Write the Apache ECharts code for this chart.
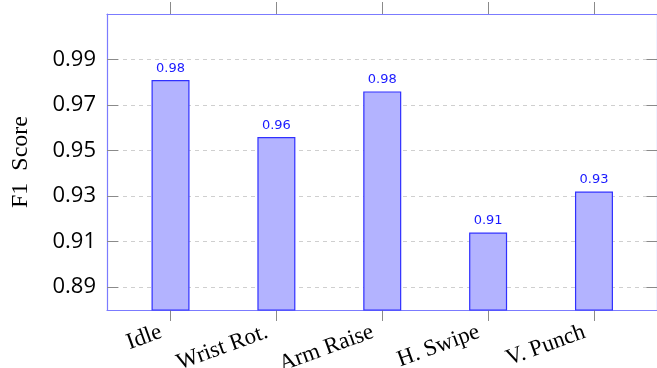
<!DOCTYPE html>
<html>
<head>
<meta charset="utf-8">
<script src="https://cdn.jsdelivr.net/npm/echarts@6/dist/echarts.min.js"></script>
<style>html,body{margin:0;padding:0;background:#fff;}#c{width:657px;height:368px;}</style>
</head>
<body>
<div id="c"></div>
<script>
const categories = ['Idle', 'Wrist Rot.', 'Arm Raise', 'H. Swipe', 'V. Punch'];
const f1Scores = [0.981, 0.956, 0.976, 0.914, 0.932];
const yTicks = [0.89, 0.91, 0.93, 0.95, 0.97, 0.99];
const xTicks = [0, 1, 2, 3, 4];

const chart = echarts.init(document.getElementById('c'), null, {renderer: 'canvas'});
const borderBlue = '#7b7bff';
const tickGrey = '#8a8a8a';
const xCommon = {
  type: 'value', min: -0.6, max: 4.6,
  axisLine: {show: true, onZero: false, lineStyle: {color: borderBlue, width: 1.2}},
  splitLine: {show: false}
};
const yCommon = {
  type: 'value', min: 0.88, max: 1.01,
  axisLine: {show: true, onZero: false, lineStyle: {color: borderBlue, width: 1.2}}
};
chart.setOption({
  animation: false,
  grid: {left: 107, top: 14, width: 550.5, height: 296, containLabel: false, outerBoundsMode: 'none'},
  xAxis: [
    Object.assign({}, xCommon, {
      position: 'bottom',
      axisTick: {show: true, inside: false, length: 11, customValues: xTicks, lineStyle: {color: tickGrey}},
      axisLabel: {
        show: true, customValues: xTicks, rotate: 20, margin: 18, padding: [0, 10, 0, 0],
        fontFamily: 'Liberation Serif', fontSize: 23, color: '#000',
        formatter: v => categories[Math.round(v)]
      }
    }),
    Object.assign({}, xCommon, {
      position: 'top',
      axisTick: {show: true, inside: false, length: 12, customValues: xTicks, lineStyle: {color: tickGrey}},
      axisLabel: {show: false}
    })
  ],
  yAxis: [
    Object.assign({}, yCommon, {
      position: 'left',
      name: 'F1  Score', nameLocation: 'middle', nameGap: 74, nameRotate: 90,
      nameTextStyle: {fontFamily: 'Liberation Serif', fontSize: 24, color: '#000'},
      axisTick: {show: true, inside: true, length: 11, customValues: yTicks, lineStyle: {color: tickGrey}},
      axisLabel: {show: true, customValues: yTicks, margin: 11, fontFamily: 'Open Sans', fontSize: 22, color: '#000',
        formatter: v => v.toFixed(2)},
      splitLine: {show: true, lineStyle: {color: '#cfcfcf', type: [4, 4], width: 1}}
    }),
    Object.assign({}, yCommon, {
      position: 'right',
      axisTick: {show: true, inside: true, length: 11, customValues: yTicks, lineStyle: {color: tickGrey}},
      axisLabel: {show: false},
      splitLine: {show: false}
    })
  ],
  series: [{
    type: 'bar',
    xAxisIndex: 0, yAxisIndex: 0,
    barWidth: 38,
    data: f1Scores.map((v, i) => [i, v]),
    itemStyle: {color: '#b3b3ff', borderColor: '#3030ff', borderWidth: 1.2},
    label: {
      show: true, position: 'top', distance: 5,
      fontFamily: 'DejaVu Sans', fontSize: 13, color: '#1a1aff',
      formatter: p => p.value[1].toFixed(2)
    }
  }]
});
</script>
</body>
</html>
